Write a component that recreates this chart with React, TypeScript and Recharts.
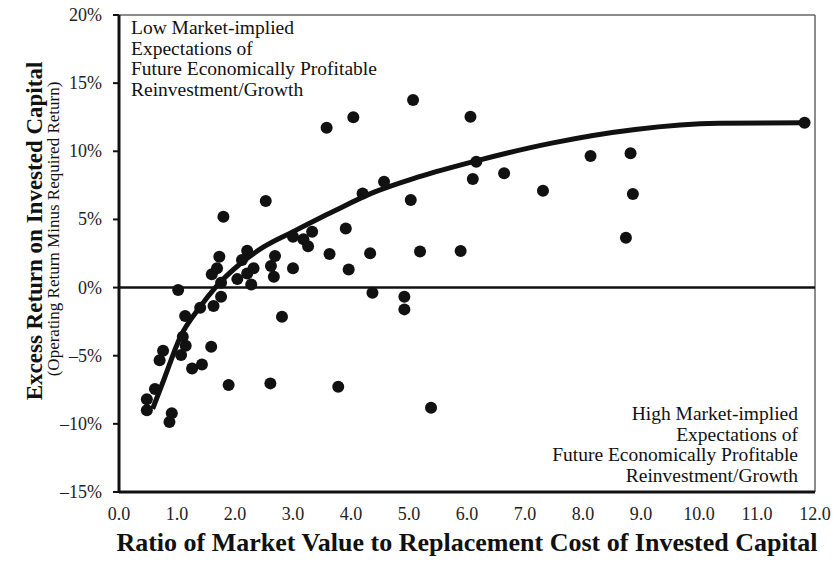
import {
  ScatterChart,
  Scatter,
  XAxis,
  YAxis,
  ReferenceLine,
  Label,
  Customized,
} from "recharts";

// -------------------------
// DATA
// -------------------------
const ratioValues = [
  0.48, 0.48, 0.62, 0.7, 0.76, 0.87, 0.91, 1.02, 1.07, 1.15, 1.1, 1.14, 1.26,
  1.43, 1.4, 1.59, 1.63, 1.89, 1.8, 1.6, 1.69, 1.73, 1.76, 1.76, 2.04, 2.12,
  2.21, 2.21, 2.32, 2.28, 2.53, 2.62, 2.69, 2.67, 2.81, 2.61, 3.0, 3.0, 3.18,
  3.26, 3.33, 3.63, 3.91, 3.96, 3.78, 4.2, 4.33, 4.37, 4.57, 5.03, 4.92, 4.92,
  5.19, 3.58, 4.04, 5.07, 6.06, 6.16, 6.1, 6.64, 7.31, 8.13, 8.82, 8.86, 8.74,
  5.89, 11.82, 5.38,
];

const excessValues = [
  -9.0, -8.2, -7.45, -5.34, -4.63, -9.87, -9.23, -0.18, -4.95, -4.27, -3.6,
  -2.09, -5.93, -5.64, -1.48, -4.34, -1.36, -7.15, 5.19, 0.97, 1.41, 2.26, 0.35,
  -0.67, 0.62, 2.02, 2.7, 1.04, 1.41, 0.23, 6.35, 1.58, 2.31, 0.79, -2.14, -7.03,
  3.73, 1.41, 3.54, 3.04, 4.09, 2.46, 4.34, 1.33, -7.28, 6.91, 2.51, -0.38, 7.76,
  6.42, -0.67, -1.6, 2.65, 11.72, 12.49, 13.76, 12.53, 9.23, 7.96, 8.38, 7.1,
  9.65, 9.85, 6.86, 3.65, 2.68, 12.09, -8.82,
];

// fitted curve drawn through the cloud
const curveRatio = [
  0.58, 0.77, 1.06, 1.4, 1.66, 2.09, 2.5, 3.0, 3.7, 4.4, 5.15, 6.16, 7.46, 8.9,
  10.34, 11.82,
];
const curveExcess = [
  -8.9, -6.8, -3.6, -1.4, 0, 1.75, 3.0, 4.1, 5.6, 7.0, 8.1, 9.3, 10.6, 11.6,
  12.05, 12.09,
];

const xTicks = [0, 1, 2, 3, 4, 5, 6, 7, 8, 9, 10, 11, 12];
const yTicks = [-15, -10, -5, 0, 5, 10, 15, 20];

const topNote = [
  "Low Market-implied",
  "Expectations of",
  "Future Economically Profitable",
  "Reinvestment/Growth",
];
const bottomNote = [
  "High Market-implied",
  "Expectations of",
  "Future Economically Profitable",
  "Reinvestment/Growth",
];

const FONT = "'Liberation Serif', 'DejaVu Serif', serif";
const INK = "#111";

const points = ratioValues.map((x, i) => ({ x, y: excessValues[i] }));
const curve = curveRatio.map((x, i) => ({ x, y: curveExcess[i] }));

const fmtPct = (v: number) => (v < 0 ? `–${Math.abs(v)}%` : `${v}%`);

function XTick(props: any) {
  const { x, y, payload } = props;
  return (
    <text
      x={x}
      y={y + 28}
      textAnchor="middle"
      fontFamily={FONT}
      fontSize={18}
      fill="#222"
      style={{ fontFamily: FONT }}
    >
      {Number(payload.value).toFixed(1)}
    </text>
  );
}

function YTick(props: any) {
  const { x, y, payload } = props;
  return (
    <text
      x={x}
      y={y + 6}
      textAnchor="end"
      fontFamily={FONT}
      fontSize={18}
      fill="#222"
      style={{ fontFamily: FONT }}
    >
      {fmtPct(payload.value)}
    </text>
  );
}

function YTitle() {
  return (
    <g>
      <text
        x={42}
        y={231}
        transform="rotate(-90, 42, 231)"
        textAnchor="middle"
        fontFamily={FONT}
        fontSize={23}
        fontWeight={700}
        fill={INK}
        style={{ fontFamily: FONT }}
      >
        Excess Return on Invested Capital
      </text>
      <text
        x={59}
        y={229}
        transform="rotate(-90, 59, 229)"
        textAnchor="middle"
        fontFamily={FONT}
        fontSize={17}
        fill={INK}
        style={{ fontFamily: FONT }}
      >
        (Operating Return Minus Required Return)
      </text>
    </g>
  );
}

function XTitle() {
  return (
    <text
      x={467}
      y={551}
      textAnchor="middle"
      fontFamily={FONT}
      fontSize={26}
      fontWeight={700}
      fill={INK}
      style={{ fontFamily: FONT }}
    >
      Ratio of Market Value to Replacement Cost of Invested Capital
    </text>
  );
}

function Notes() {
  return (
    <g fontFamily={FONT} fontSize={19.5} fill={INK} style={{ fontFamily: FONT }}>
      {topNote.map((line, i) => (
        <text key={"t" + i} x={131} y={34 + i * 20.5}>
          {line}
        </text>
      ))}
      {bottomNote.map((line, i) => (
        <text key={"b" + i} x={798} y={420 + i * 20.5} textAnchor="end">
          {line}
        </text>
      ))}
    </g>
  );
}

export default function App() {
  return (
    <div
      style={{
        position: "absolute",
        left: 0,
        top: 0,
        width: 834,
        height: 564,
        background: "#fff",
        fontFamily: FONT,
      }}
    >
      <ScatterChart
        width={834}
        height={564}
        margin={{ top: 15, right: 19, left: 0, bottom: 0 }}
      >
        <XAxis
          type="number"
          dataKey="x"
          domain={[0, 12]}
          ticks={xTicks}
          allowDataOverflow
          tickLine={false}
          tickSize={0}
          tickMargin={0}
          height={72}
          axisLine={{ stroke: INK, strokeWidth: 3 }}
          tick={<XTick />}
        >
          <Label content={XTitle} />
        </XAxis>
        <YAxis
          type="number"
          dataKey="y"
          domain={[-15, 20]}
          ticks={yTicks}
          allowDataOverflow
          width={119}
          tickSize={6}
          tickMargin={11}
          tickLine={{ stroke: INK, strokeWidth: 2 }}
          axisLine={{ stroke: INK, strokeWidth: 3 }}
          tick={<YTick />}
        >
          <Label content={YTitle} />
        </YAxis>

        <ReferenceLine y={20} stroke="#666" strokeWidth={1.5} />
        <ReferenceLine x={12} stroke="#666" strokeWidth={1.5} />
        <ReferenceLine y={0} stroke={INK} strokeWidth={2.5} />

        <Scatter
          data={curve}
          line={{ stroke: INK, strokeWidth: 5 }}
          lineJointType="monotoneX"
          shape={() => <g />}
          legendType="none"
          isAnimationActive={false}
        />
        <Scatter
          data={points}
          fill={INK}
          shape={(p: any) => <circle cx={p.cx} cy={p.cy} r={6} fill={INK} />}
          isAnimationActive={false}
        />

        <Customized component={Notes} />
      </ScatterChart>
    </div>
  );
}
